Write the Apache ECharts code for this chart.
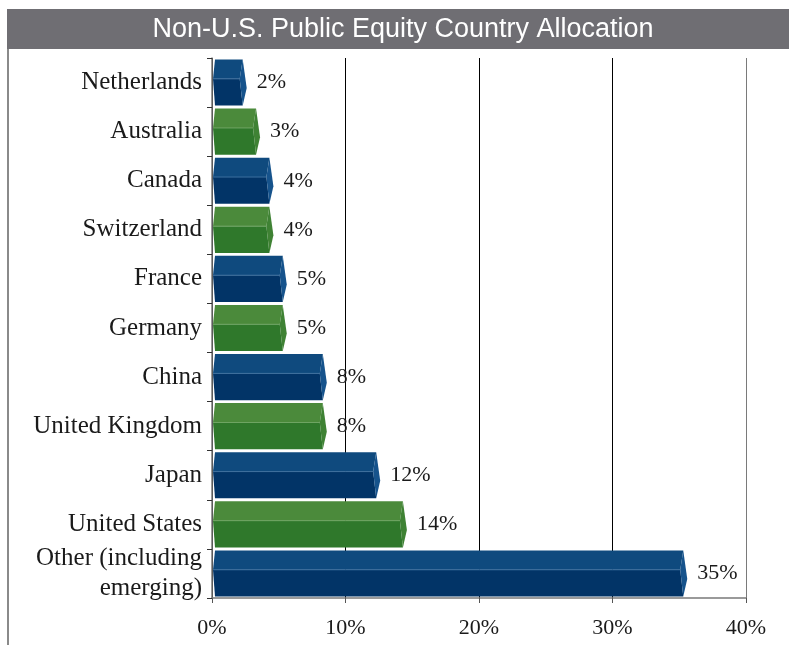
<!DOCTYPE html>
<html>
<head>
<meta charset="utf-8">
<script src="https://cdn.jsdelivr.net/npm/echarts@6/dist/echarts.min.js"></script>
<style>
  html, body { margin: 0; padding: 0; background: #fff; }
  #main { width: 789px; height: 645px; }
</style>
</head>
<body>
<div id="main"></div>
<script>
// categories top to bottom
var countries = ['Netherlands', 'Australia', 'Canada', 'Switzerland', 'France', 'Germany',
  'China', 'United Kingdom', 'Japan', 'United States', 'Other (including\nemerging)'];
var allocation = [2, 3, 4, 4, 5, 5, 8, 8, 12, 14, 35];
var xTicks = [0, 10, 20, 30, 40];

// alternating blue / green faces: top, front, end
var blue = { top: '#0f4a7e', front: '#023467', end: '#16538c', edge: '#3d6f9e' };
var green = { top: '#4b8a3b', front: '#2f782b', end: '#3f8234', edge: '#6fa463' };

var chart = echarts.init(document.getElementById('main'));

function renderBar(params, api) {
  var v = api.value(0), c = api.value(1);
  var p0 = api.coord([0, c]);
  var p1 = api.coord([v, c]);
  var h = api.size([0, 1])[1] * 0.94;
  var cy = p0[1];
  var y0 = cy - h / 2, y1 = cy + h / 2, ym = y0 + h * 0.42;
  var x0 = p0[0] + 1, xr = p1[0] + 4;
  var col = params.dataIndex % 2 === 0 ? blue : green;
  return {
    type: 'group',
    children: [
      { type: 'polygon', shape: { points: [[x0 + 2, y0], [xr, y0], [xr - 3, ym], [x0, ym]] },
        style: { fill: col.top } },
      { type: 'polygon', shape: { points: [[x0, ym], [xr - 3, ym], [xr, y1], [x0 + 2, y1]] },
        style: { fill: col.front } },
      { type: 'polygon', shape: { points: [[xr, y0], [xr + 4, y0 + h * 0.62], [xr, y1], [xr - 3, ym]] },
        style: { fill: col.end } },
      { type: 'polyline', shape: { points: [[x0, ym], [xr - 3, ym]] },
        style: { stroke: col.edge, lineWidth: 1, fill: null } },
      { type: 'text', x: xr + 14, y: cy,
        style: { text: v + '%', fill: '#1a1a1a', font: '22px "Liberation Serif"',
          verticalAlign: 'middle', align: 'left' } }
    ]
  };
}

chart.setOption({
  animation: false,
  backgroundColor: '#fff',
  graphic: [
    { type: 'rect', shape: { x: 7, y: 9, width: 782, height: 40 }, style: { fill: '#6f6e73' } },
    { type: 'text', x: 403, y: 30,
      style: { text: 'Non-U.S. Public Equity Country Allocation', fill: '#fff',
        font: '27px "Liberation Sans"', align: 'center', verticalAlign: 'middle' } },
    { type: 'rect', shape: { x: 7, y: 49, width: 2, height: 600 }, style: { fill: '#8a8a8a' } }
  ],
  grid: { left: 212, right: 43, top: 58, bottom: 47 },
  xAxis: {
    type: 'value', min: xTicks[0], max: xTicks[xTicks.length - 1], interval: 10,
    axisLine: { show: true, lineStyle: { color: '#7a7a7a', width: 1.5 } },
    axisTick: { show: true, length: 5, lineStyle: { color: '#555' } },
    axisLabel: { formatter: '{value}%', color: '#1a1a1a', fontFamily: 'Liberation Serif', fontSize: 22, margin: 19 },
    splitLine: { show: true, lineStyle: { color: ['#000', '#000', '#000', '#000', '#7a7a7a'], width: 1 } }
  },
  yAxis: {
    type: 'category', data: countries, inverse: true,
    axisLine: { show: true, lineStyle: { color: '#7a7a7a', width: 1.5 } },
    axisTick: { show: true, length: 5, lineStyle: { color: '#333' } },
    axisLabel: { color: '#1a1a1a', fontFamily: 'Liberation Serif', fontSize: 25, margin: 10,
      align: 'right', lineHeight: 30 }
  },
  series: [{
    type: 'custom',
    renderItem: renderBar,
    encode: { x: 0, y: 1 },
    data: allocation.map(function (v, i) { return [v, i]; })
  }]
});
</script>
</body>
</html>
